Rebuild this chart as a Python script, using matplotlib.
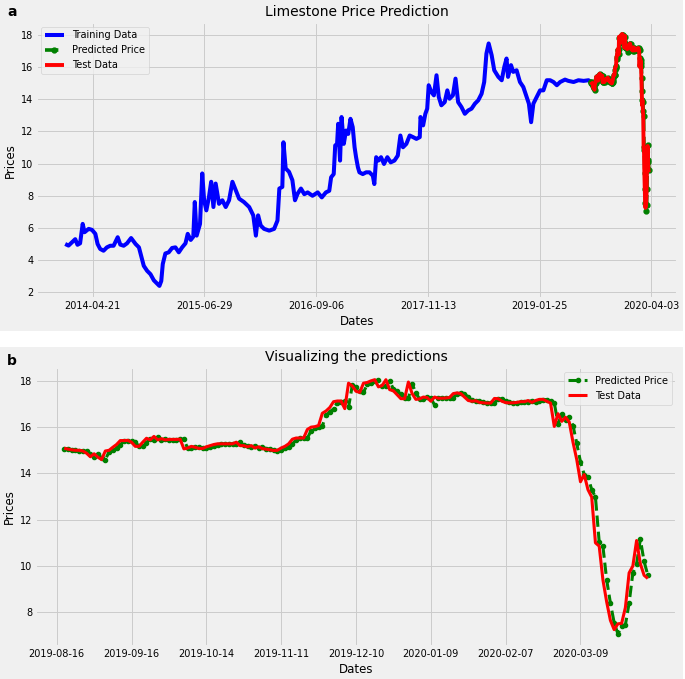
import numpy as np
import matplotlib
matplotlib.use("Agg")
import matplotlib.pyplot as plt
from matplotlib.patches import Rectangle

# ---------------- data ----------------
train_day = [0, 9, 18, 27, 33, 40, 47, 52, 63, 72,
             81, 87, 94, 103, 112, 121, 130, 141, 148, 157,
             166, 177, 189, 198, 205, 211, 220, 229, 238, 247,
             253, 258, 262, 269, 278, 287, 296, 305, 314, 323,
             329, 337, 344, 348, 353, 362, 368, 373, 379, 386,
             392, 398, 404, 413, 422, 431, 440, 449, 458, 467,
             480, 494, 505, 512, 518, 525, 534, 548, 561, 570,
             575, 583, 586, 592, 601, 610, 617, 624, 633, 642,
             651, 664, 678, 689, 700, 709, 714, 721, 725, 730,
             733, 738, 742, 748, 754, 760, 766, 772, 777, 781,
             786, 790, 799, 808, 817, 826, 830, 835, 841, 848,
             856, 865, 874, 884, 893, 900, 907, 916, 925, 934,
             943, 952, 954, 961, 967, 972, 976, 983, 990, 997,
             1003, 1010, 1019, 1026, 1032, 1041, 1048, 1055, 1064, 1073,
             1082, 1091, 1100, 1109, 1118, 1125, 1131, 1137, 1145, 1152,
             1163, 1172, 1179, 1185, 1189, 1197, 1203, 1212, 1221, 1230,
             1239, 1245, 1251, 1257, 1266, 1275, 1284, 1293, 1302, 1311,
             1320, 1329, 1342, 1351, 1365, 1378, 1392, 1405, 1410]

train_price = [5.0, 4.9, 5.1, 5.3, 4.95, 5.04, 6.25, 5.73, 5.94, 5.88,
               5.63, 5.0, 4.69, 4.58, 4.79, 4.89, 4.89, 5.42, 4.96, 4.89,
               5.04, 5.37, 5.0, 4.79, 4.16, 3.64, 3.33, 3.12, 2.74, 2.53,
               2.39, 2.7, 3.75, 4.41, 4.48, 4.75, 4.79, 4.48, 4.79, 5.04,
               5.63, 5.25, 5.46, 7.61, 5.52, 6.25, 9.39, 7.72, 7.09, 7.92,
               8.87, 7.3, 8.76, 7.5, 7.72, 7.3, 7.72, 8.87, 8.34, 7.82,
               7.61, 7.3, 6.78, 5.52, 6.78, 6.15, 5.94, 5.83, 5.94, 6.46,
               8.45, 8.55, 11.33, 9.7, 9.49, 8.97, 7.72, 8.13, 8.45, 8.1,
               8.21, 8.0, 8.21, 7.9, 8.21, 8.31, 9.15, 9.35, 11.13, 11.23,
               12.48, 10.19, 12.9, 11.23, 12.06, 11.85, 12.79, 12.27, 11.02, 10.4,
               9.77, 9.46, 9.35, 9.46, 9.46, 9.25, 8.73, 10.4, 10.19, 10.4,
               9.98, 10.4, 10.08, 10.19, 10.5, 11.75, 11.02, 11.23, 11.75, 11.65,
               11.54, 11.65, 12.9, 12.38, 13.1, 13.42, 14.88, 14.46, 14.25, 15.5,
               14.15, 13.63, 13.83, 14.56, 14.04, 14.25, 15.29, 13.83, 13.52, 13.1,
               13.31, 13.42, 13.73, 13.94, 14.35, 15.08, 16.85, 17.48, 16.75, 15.81,
               15.4, 15.19, 16.02, 16.54, 15.4, 16.13, 15.71, 15.81, 15.08, 14.77,
               14.15, 13.73, 12.58, 13.73, 14.15, 14.56, 14.56, 15.19, 15.19, 15.08,
               14.88, 15.08, 15.23, 15.15, 15.08, 15.19, 15.15, 15.19, 15.1]

test_price = [15.09, 15.05, 15.02, 15.00, 15.00, 14.97, 14.87, 14.72, 14.85, 14.70,
              14.60, 14.97, 15.00, 15.13, 15.25, 15.42, 15.42, 15.43, 15.35, 15.17,
              15.17, 15.35, 15.52, 15.45, 15.60, 15.45, 15.50, 15.45, 15.47, 15.47,
              15.47, 15.48, 15.06, 15.10, 15.17, 15.13, 15.08, 15.08, 15.15, 15.20,
              15.25, 15.28, 15.28, 15.28, 15.28, 15.28, 15.35, 15.20, 15.20, 15.15,
              15.20, 15.10, 15.15, 15.07, 15.05, 15.02, 14.99, 15.00, 15.10, 15.17,
              15.28, 15.48, 15.53, 15.53, 15.53, 15.90, 16.00, 16.02, 16.07, 16.60,
              16.70, 16.85, 17.10, 17.13, 17.13, 16.80, 17.90, 17.78, 17.55, 17.50,
              17.90, 17.93, 18.00, 18.05, 17.74, 17.80, 18.05, 17.62, 17.57, 17.40,
              17.23, 17.23, 17.95, 17.45, 17.20, 17.22, 17.30, 17.28, 17.12, 17.30,
              17.25, 17.25, 17.26, 17.28, 17.45, 17.48, 17.45, 17.30, 17.15, 17.12,
              17.14, 17.07, 17.05, 17.04, 17.04, 17.24, 17.23, 17.12, 17.06, 17.05,
              17.05, 17.07, 17.10, 17.10, 17.15, 17.07, 17.15, 17.20, 17.20, 17.12,
              17.04, 16.03, 16.58, 16.25, 16.43, 16.22, 15.35, 14.60, 13.64, 13.95,
              13.30, 12.98, 11.00, 10.86, 9.40, 8.45, 7.65, 7.25, 7.50, 7.52,
              8.20, 9.70, 10.00, 11.10, 10.10, 9.60, 9.46]

predicted_price = [15.07, 15.07, 15.03, 15.00, 14.98, 14.98, 14.95, 14.85, 14.70, 14.82,
                   14.68, 14.60, 14.93, 15.00, 15.12, 15.23, 15.40, 15.41, 15.42, 15.34,
                   15.18, 15.18, 15.33, 15.50, 15.45, 15.58, 15.46, 15.49, 15.45, 15.46,
                   15.46, 15.47, 15.48, 15.08, 15.10, 15.16, 15.13, 15.08, 15.08, 15.14,
                   15.19, 15.24, 15.27, 15.27, 15.27, 15.27, 15.27, 15.34, 15.21, 15.20,
                   15.15, 15.19, 15.11, 15.14, 15.07, 15.05, 15.02, 14.99, 15.00, 15.09,
                   15.16, 15.26, 15.45, 15.52, 15.52, 15.52, 15.85, 15.98, 16.01, 16.05,
                   16.52, 16.65, 16.80, 17.05, 17.10, 17.12, 16.85, 17.80, 17.75, 17.55,
                   17.50, 17.85, 17.90, 17.98, 18.02, 17.76, 17.78, 18.00, 17.64, 17.57,
                   17.42, 17.25, 17.24, 17.88, 17.47, 17.22, 17.22, 17.29, 17.27, 16.95,
                   17.28, 17.25, 17.25, 17.26, 17.28, 17.44, 17.47, 17.44, 17.30, 17.16,
                   17.13, 17.14, 17.08, 17.05, 17.04, 17.04, 17.22, 17.22, 17.12, 17.07,
                   17.05, 17.05, 17.07, 17.09, 17.10, 17.14, 17.08, 17.14, 17.19, 17.19,
                   17.12, 17.05, 16.14, 16.56, 16.29, 16.43, 16.07, 15.30, 14.50, 13.95,
                   13.85, 13.30, 12.98, 11.05, 10.85, 9.40, 8.40, 7.55, 7.07, 7.40,
                   7.45, 8.40, 9.70, 10.10, 11.15, 10.20, 9.60]

top_tick_labels = ['2014-04-21', '2015-06-29', '2016-09-06', '2017-11-13',
                   '2019-01-25', '2020-04-03']
bottom_tick_labels = ['2019-08-16', '2019-09-16', '2019-10-14', '2019-11-11',
                      '2019-12-10', '2020-01-09', '2020-02-07', '2020-03-09']

# ---------------- style ----------------
plt.style.use('fivethirtyeight')
plt.rcParams.update({
    'font.family': ['DejaVu Sans'],
    'font.size': 7,
    'axes.titlesize': 10,
    'axes.labelsize': 8.5,
    'xtick.labelsize': 7,
    'ytick.labelsize': 7,
    'legend.fontsize': 7,
    'lines.linewidth': 2.0,
    'grid.linewidth': 0.7,
    'xtick.major.pad': 2,
    'ytick.major.pad': 2,
    'axes.labelpad': 2.5,
})

W, H = 685, 679
fig = plt.figure(figsize=(W / 100, H / 100), dpi=100, facecolor='white')

# grey panel backgrounds
fig.patches.append(Rectangle((0, 1 - 331 / H), 683 / W, 331 / H, transform=fig.transFigure,
                             facecolor='#f0f0f0', edgecolor='none', zorder=-10))
fig.patches.append(Rectangle((0, 0), 683 / W, 332 / H, transform=fig.transFigure,
                             facecolor='#f0f0f0', edgecolor='none', zorder=-10))

train_day_a = np.array(train_day)
test_day = train_day_a[-1] + 1 + np.arange(len(test_price))
test_idx = np.arange(len(test_price))

# ---------------- panel a ----------------
ax1 = fig.add_axes([36 / W, 1 - 298.5 / H, 642 / W, 276.8 / H])
ax1.plot(train_day_a, train_price, color='blue', lw=2.9, label='Training Data')
ax1.plot(test_day, predicted_price, color='green', marker='o', linestyle='dashed',
         markersize=3.5, lw=2.6, label='Predicted Price')
ax1.plot(test_day, test_price, color='red', lw=2.8, label='Test Data')
ax1.set_xticks(74 + 300 * np.arange(len(top_tick_labels)))
ax1.set_xticklabels(top_tick_labels)
ax1.set_title('Limestone Price Prediction', pad=4)
ax1.set_xlabel('Dates')
ax1.set_ylabel('Prices')
ax1.legend(loc='upper left')

# ---------------- panel b ----------------
ax2 = fig.add_axes([35 / W, 1 - 646.5 / H, 642 / W, 279.5 / H])
ax2.plot(test_idx, predicted_price, color='green', marker='o', linestyle='dashed',
         markersize=3, lw=2.2, label='Predicted Price')
ax2.plot(test_idx, test_price, color='red', lw=2.2, label='Test Data')
ax2.set_xticks(-2 + 20 * np.arange(len(bottom_tick_labels)))
ax2.set_xticklabels(bottom_tick_labels)
ax2.set_title('Visualizing the predictions', pad=4)
ax2.set_xlabel('Dates')
ax2.set_ylabel('Prices')
ax2.legend(loc='upper right')

fig.text(7 / W, 1 - 16 / H, 'a', fontsize=10, fontweight='bold', va='baseline')
fig.text(7 / W, 1 - 365 / H, 'b', fontsize=10, fontweight='bold', va='baseline')

fig.savefig('out.png', dpi=100, facecolor='white')
